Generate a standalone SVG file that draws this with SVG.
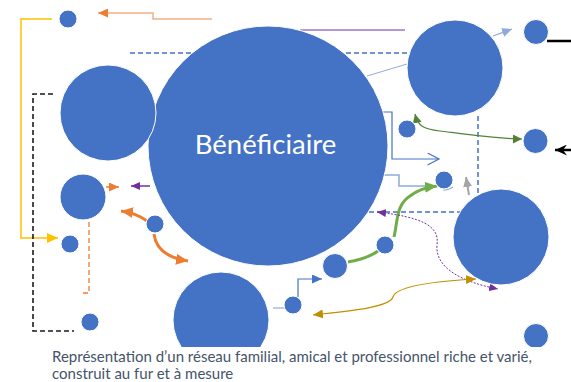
<svg xmlns="http://www.w3.org/2000/svg" width="571" height="382" viewBox="0 0 571 382">
<style>
.node{fill:#4472C4;stroke:#FFFFFF;stroke-width:1}
.c{fill:none}
.dash{stroke-dasharray:5,3}
.cap{font-family:Lato,"Liberation Sans",sans-serif;font-size:15px;fill:#44546A}
.lbl{font-family:Lato,"Liberation Sans",sans-serif;font-size:27.5px;fill:#FFFFFF}
</style>
<defs>
<clipPath id="clip"><rect x="0" y="0" width="571" height="347"/></clipPath>
<marker id="aOr" markerUnits="userSpaceOnUse" markerWidth="10" markerHeight="9" refX="10" refY="4.5" orient="auto-start-reverse"><path d="M0,0 L10,4.5 L0,9 z" fill="#ED7D31"/></marker>
<marker id="aOrB" markerUnits="userSpaceOnUse" markerWidth="12" markerHeight="11" refX="12" refY="5.5" orient="auto-start-reverse"><path d="M0,0 L12,5.5 L0,11 z" fill="#ED7D31"/></marker>
<marker id="aYe" markerUnits="userSpaceOnUse" markerWidth="11" markerHeight="10" refX="11" refY="5" orient="auto"><path d="M0,0 L11,5 L0,10 z" fill="#FFC000"/></marker>
<marker id="aPu" markerUnits="userSpaceOnUse" markerWidth="9" markerHeight="8" refX="9" refY="4" orient="auto-start-reverse"><path d="M0,0 L9,4 L0,8 z" fill="#7030A0"/></marker>
<marker id="aGo" markerUnits="userSpaceOnUse" markerWidth="10" markerHeight="9" refX="10" refY="4.5" orient="auto-start-reverse"><path d="M0,0 L10,4.5 L0,9 z" fill="#BF9000"/></marker>
<marker id="aGd" markerUnits="userSpaceOnUse" markerWidth="9" markerHeight="9" refX="9" refY="4.5" orient="auto-start-reverse"><path d="M0,0 L9,4.5 L0,9 z" fill="#548235"/></marker>
<marker id="aGr" markerUnits="userSpaceOnUse" markerWidth="12" markerHeight="11" refX="12" refY="5.5" orient="auto"><path d="M0,0 L12,5.5 L0,11 z" fill="#70AD47"/></marker>
<marker id="aBl" markerUnits="userSpaceOnUse" markerWidth="10" markerHeight="9" refX="10" refY="4.5" orient="auto"><path d="M0,0 L10,4.5 L0,9 z" fill="#4472C4"/></marker>
<marker id="aLb" markerUnits="userSpaceOnUse" markerWidth="10" markerHeight="9" refX="10" refY="4.5" orient="auto"><path d="M0,0 L10,4.5 L0,9 z" fill="#8FAADC"/></marker>
<marker id="aGy" markerUnits="userSpaceOnUse" markerWidth="10" markerHeight="9" refX="10" refY="4.5" orient="auto"><path d="M0,0 L10,4.5 L0,9 z" fill="#A5A5A5"/></marker>
<marker id="aOpen" markerUnits="userSpaceOnUse" markerWidth="14" markerHeight="14" refX="12" refY="6.5" orient="auto"><path d="M0.5,0.5 L12,6.5 L0.5,12.5" fill="none" stroke="#4472C4" stroke-width="1.2"/></marker>
<marker id="aBk" markerUnits="userSpaceOnUse" markerWidth="12" markerHeight="11" refX="12" refY="5.5" orient="auto"><path d="M0,0 L12,5.5 L0,11 L4,5.5 z" fill="#000000"/></marker>
</defs>
<g clip-path="url(#clip)">
<g id="connectors" class="c">
<path d="M130,53 H408" stroke="#4472C4" stroke-width="1.5" class="dash"/>
<path d="M478,116 V212 H367" stroke="#4472C4" stroke-width="1.5" class="dash"/>
<path d="M300,30 H405" stroke="#7030A0" stroke-width="1.2"/>
<path d="M212,19 H153 V13 H98" stroke="#F4B183" stroke-width="1.5" marker-end="url(#aOr)"/>
<path d="M52,19 H21 V238 H58" stroke="#FFC000" stroke-width="1.5" marker-end="url(#aYe)"/>
<path d="M53,94 H33 V331 H74" stroke="#1A1A1A" stroke-width="1.6" class="dash"/>
<path d="M89,222 V293 H82" stroke="#ED7D31" stroke-width="1.3" class="dash"/>
<path d="M106,187 H119" stroke="#ED7D31" stroke-width="1.5" marker-end="url(#aOr)"/>
<path d="M150,186 H131" stroke="#7030A0" stroke-width="1.5" marker-end="url(#aPu)"/>
<path d="M147,221 Q136,213 121,211" stroke="#ED7D31" stroke-width="3" marker-end="url(#aOrB)"/>
<path d="M154,234 C156,250 168,258 188,261" stroke="#ED7D31" stroke-width="3" marker-end="url(#aOrB)"/>
<path d="M367,76 L407,64" stroke="#8FAADC" stroke-width="1"/>
<path d="M493,36 L512,29" stroke="#8FAADC" stroke-width="1.2" marker-end="url(#aLb)"/>
<path d="M382,112 H392 V159 H439" stroke="#4472C4" stroke-width="1.2" marker-end="url(#aOpen)"/>
<path d="M383,175 H399 V186 H436" stroke="#8FAADC" stroke-width="1.5"/>
<path d="M443,190 Q449,190 453,187" stroke="#8FAADC" stroke-width="1.2"/>
<path d="M415,114 C418,126 423,129 440,131 S500,139 522,139" stroke="#548235" stroke-width="1.2" marker-start="url(#aGd)" marker-end="url(#aGd)"/>
<path d="M469,195 L466,177" stroke="#A5A5A5" stroke-width="2" marker-end="url(#aGy)"/>
<path d="M348,262 C360,260 371,256 378,251" stroke="#70AD47" stroke-width="3"/>
<path d="M394,237 C398,220 396,205 410,196 C418,190 427,187 437,186" stroke="#70AD47" stroke-width="3" marker-end="url(#aGr)"/>
<path d="M377,212 C420,217 440,225 437,245 C435,268 462,282 498,289" stroke="#7030A0" stroke-width="1" stroke-dasharray="2,1.5" marker-start="url(#aPu)" marker-end="url(#aPu)"/>
<path d="M313,315 C340,312 390,308 393,297 C396,285 440,281 476,279" stroke="#BF9000" stroke-width="1.2" marker-start="url(#aGo)" marker-end="url(#aGo)"/>
<path d="M298,297 V279 H322" stroke="#4472C4" stroke-width="1.2" marker-end="url(#aBl)"/>
<path d="M273,308 H285" stroke="#8FAADC" stroke-width="1.2"/>
<path d="M547,41 H571" stroke="#000000" stroke-width="2.5"/>
<path d="M571,150 H555" stroke="#000000" stroke-width="2.5" marker-end="url(#aBk)"/>
</g>
<g id="beneficiaire"><circle class="node" cx="268" cy="146" r="120"/><text class="lbl" x="265.5" y="154" text-anchor="middle">Bénéficiaire</text></g>
<g id="n-topleft-small"><circle class="node" cx="68" cy="19" r="9"/></g>
<g id="n-topleft-big"><circle class="node" cx="108" cy="113" r="48"/></g>
<g id="n-left-mid"><circle class="node" cx="83" cy="197" r="23"/></g>
<g id="n-left-small"><circle class="node" cx="70" cy="244" r="9"/></g>
<g id="n-left-bottom"><circle class="node" cx="90" cy="322" r="9"/></g>
<g id="n-center-small"><circle class="node" cx="155" cy="224" r="9"/></g>
<g id="n-bottom-big"><circle class="node" cx="221" cy="320" r="48"/></g>
<g id="n-bottom-small"><circle class="node" cx="293" cy="305" r="9"/></g>
<g id="n-bottom-mid"><circle class="node" cx="335" cy="266" r="12.5"/></g>
<g id="n-green-small"><circle class="node" cx="385" cy="245" r="9"/></g>
<g id="n-topright-big"><circle class="node" cx="455" cy="68" r="48"/></g>
<g id="n-topright-small"><circle class="node" cx="536" cy="32" r="12.5"/></g>
<g id="n-mid-small-a"><circle class="node" cx="407" cy="129" r="9"/></g>
<g id="n-mid-small-b"><circle class="node" cx="444" cy="180" r="9"/></g>
<g id="n-right-mid"><circle class="node" cx="535.5" cy="141" r="12.5"/></g>
<g id="n-right-big"><circle class="node" cx="501" cy="237" r="48"/></g>
<g id="n-right-bottom"><circle class="node" cx="536" cy="336" r="12.5"/></g>
</g>
<g id="caption">
<text class="cap" x="52" y="362">Représentation d’un réseau familial, amical et professionnel riche et varié,</text>
<text class="cap" x="52" y="379">construit au fur et à mesure</text>
</g>
</svg>
